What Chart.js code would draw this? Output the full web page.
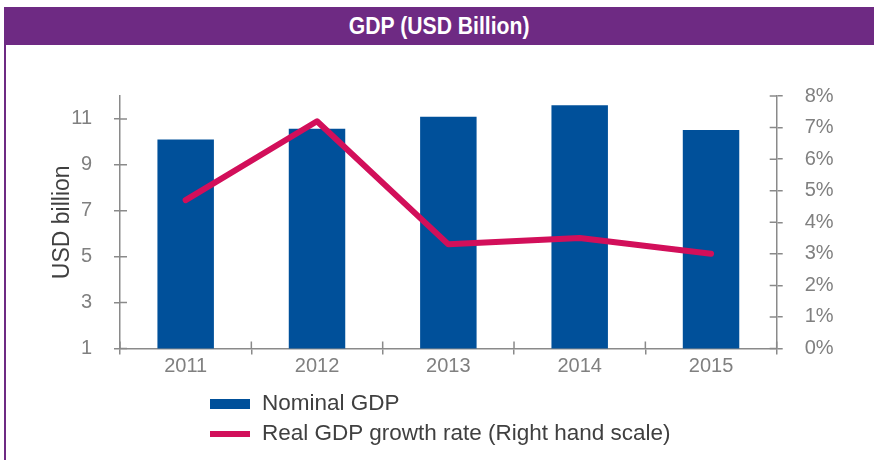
<!DOCTYPE html>
<html>
<head>
<meta charset="utf-8">
<script src="https://cdn.jsdelivr.net/npm/chart.js@4.4.1/dist/chart.umd.min.js"></script>
<style>
	html, body { margin: 0; padding: 0; background: #fff; }
	#wrap { position: relative; width: 874px; height: 460px; overflow: hidden; font-family: 'Liberation Sans', Arial, sans-serif; }
	#head { position: absolute; left: 4px; top: 7px; width: 870px; height: 38px; background: #6e2a83; color: #fff; font-weight: bold; font-size: 23px; line-height: 38px; text-align: center; }
	#head span { display: inline-block; transform: scaleX(0.92); }
	#edge { position: absolute; left: 4px; top: 45px; width: 2px; height: 415px; background: #6e2a83; }
	#chart { position: absolute; left: 0; top: 0; }
	#legend { position: absolute; left: 210px; top: 390px; color: #404040; font-size: 22.5px; }
	#legend .row { height: 30px; line-height: 26px; white-space: nowrap; }
	#legend .sw { display: inline-block; width: 40px; margin-right: 12px; vertical-align: middle; }
</style>
</head>
<body>
<div id="wrap">
	<canvas id="chart" width="874" height="460"></canvas>
	<div id="head"><span>GDP (USD Billion)</span></div>
	<div id="edge"></div>
	<div id="legend"></div>
</div>
<script>
var years = ['2011', '2012', '2013', '2014', '2015'];
var nominalGdp = [10.1, 10.57, 11.1, 11.6, 10.52];
var realGrowth = [4.7, 7.2, 3.3, 3.5, 3.0];
var leftTicks = [1, 3, 5, 7, 9, 11];

var blue = '#00509a',
	pink = '#d20f5a',
	axisGrey = '#8a8a8a',
	labelGrey = '#808080';

// ticks in the reference cross the axis, chart.js only draws the outer half
var innerTicks = {
	id: 'innerTicks',
	afterDatasetsDraw: function (chart) {
		var ctx = chart.ctx, area = chart.chartArea, len = 7;
		ctx.save();
		ctx.strokeStyle = axisGrey;
		ctx.lineWidth = 1.5;
		ctx.beginPath();
		chart.scales.y.ticks.forEach(function (t) {
			var py = chart.scales.y.getPixelForValue(t.value);
			ctx.moveTo(area.left, py); ctx.lineTo(area.left + len, py);
		});
		chart.scales.y1.ticks.forEach(function (t) {
			var py = chart.scales.y1.getPixelForValue(t.value);
			ctx.moveTo(area.right, py); ctx.lineTo(area.right - len, py);
		});
		var xs = chart.scales.x;
		for (i = 0; i <= years.length; i++) {
			var px = xs.left + (xs.right - xs.left) * i / years.length;
			ctx.moveTo(px, area.bottom); ctx.lineTo(px, area.bottom - len);
		}
		ctx.stroke();
		ctx.restore();
	}
};

var tickFont = { family: "'Liberation Sans', Arial, sans-serif", size: 20 };

var chart = new Chart(document.getElementById('chart').getContext('2d'), {
	type: 'bar',
	data: {
		labels: years,
		datasets: [{
			type: 'line',
			label: 'Real GDP growth rate (Right hand scale)',
			data: realGrowth,
			yAxisID: 'y1',
			borderColor: pink,
			backgroundColor: pink,
			borderWidth: 6,
			borderCapStyle: 'round',
			borderJoinStyle: 'round',
			pointRadius: 0,
			tension: 0,
			order: 0
		}, {
			label: 'Nominal GDP',
			data: nominalGdp,
			yAxisID: 'y',
			backgroundColor: blue,
			categoryPercentage: 1,
			barPercentage: 0.43,
			order: 1
		}]
	},
	options: {
		responsive: false,
		animation: false,
		layout: { padding: { top: 96, left: 0, right: 0, bottom: 0 } },
		plugins: { legend: { display: false }, tooltip: { enabled: false } },
		scales: {
			x: {
				grid: { display: true, drawOnChartArea: false, offset: true, color: axisGrey, lineWidth: 1.5, tickLength: 6 },
				border: { color: axisGrey, width: 1.5 },
				ticks: { color: labelGrey, font: tickFont, padding: 0 },
				afterFit: function (s) { s.height = 111.5; }
			},
			y: {
				position: 'left',
				min: 1,
				max: 12,
				afterBuildTicks: function (s) { s.ticks = leftTicks.map(function (v) { return { value: v }; }); },
				grid: { drawOnChartArea: false, color: axisGrey, lineWidth: 1.5, tickLength: 6 },
				border: { color: axisGrey, width: 1.5 },
				ticks: { color: labelGrey, font: tickFont, padding: 22 },
				title: { display: true, text: 'USD billion', color: '#404040', font: { family: "'Liberation Sans', Arial, sans-serif", size: 23 }, padding: { top: 49, bottom: 0 } },
				afterFit: function (s) { s.width = 120; }
			},
			y1: {
				position: 'right',
				min: 0,
				max: 8,
				grid: { drawOnChartArea: false, color: axisGrey, lineWidth: 1.5, tickLength: 6 },
				border: { color: axisGrey, width: 1.5 },
				ticks: { stepSize: 1, color: labelGrey, font: tickFont, padding: 22, callback: function (v) { return v + '%'; } },
				afterFit: function (s) { s.width = 97.3; }
			}
		}
	},
	plugins: [innerTicks]
});

// legend as a stacked list, built from the datasets
var legendItems = [chart.data.datasets[1], chart.data.datasets[0]];
var html = '';
legendItems.forEach(function (ds) {
	var h = ds.type === 'line' ? 6 : 10;
	html += '<div class="row"><span class="sw" style="height:' + h + 'px;background:' + (ds.type === 'line' ? ds.borderColor : ds.backgroundColor) + '"></span>' + ds.label + '</div>';
});
document.getElementById('legend').innerHTML = html;
</script>
</body>
</html>
